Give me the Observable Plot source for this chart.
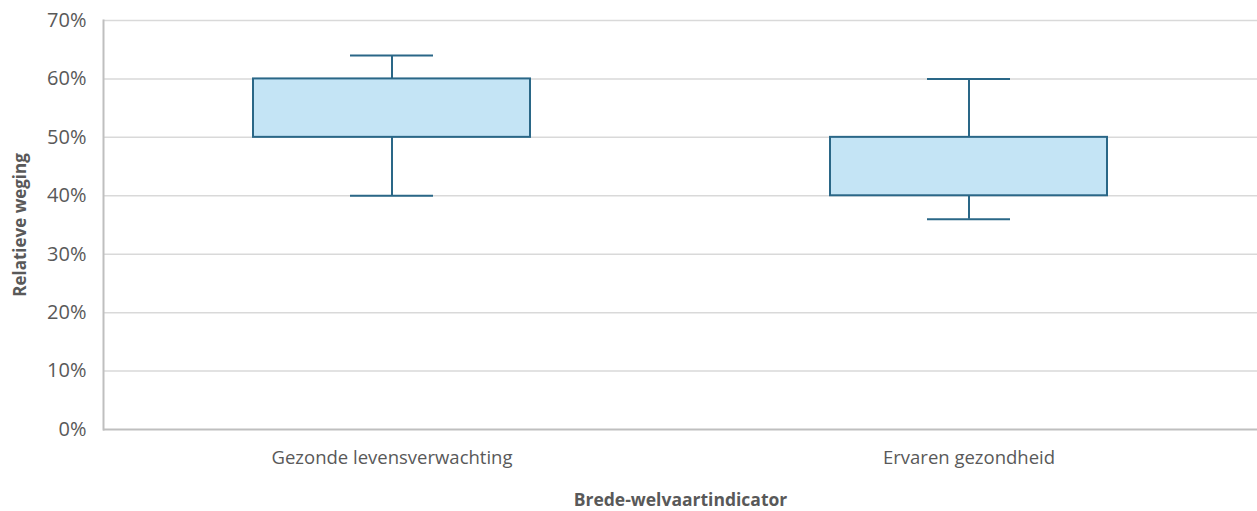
<!DOCTYPE html>
<html>
<head>
<meta charset="utf-8">
<script src="https://cdn.jsdelivr.net/npm/d3@7"></script>
<script src="https://cdn.jsdelivr.net/npm/@observablehq/plot@0.6"></script>
<style>
  html, body { margin: 0; padding: 0; background: #fff; }
  #chart svg { font-family: "Open Sans", Roboto, sans-serif; }
  #chart svg [aria-label="y-axis tick label"] text,
  #chart svg [aria-label="x-axis tick label"] text { fill: #595959; }
</style>
</head>
<body>
<div id="chart"></div>
<script>
const categories = ["Gezonde levensverwachting", "Ervaren gezondheid"];
const whiskerLow = [0.40, 0.36];
const q1 = [0.50, 0.40];
const q3 = [0.60, 0.50];
const whiskerHigh = [0.64, 0.60];
const yTicks = [0, 0.1, 0.2, 0.3, 0.4, 0.5, 0.6, 0.7];

const data = categories.map((c, i) => ({
  cat: c, lo: whiskerLow[i], q1: q1[i], q3: q3[i], hi: whiskerHigh[i]
}));

const boxStroke = "#2a6787";
const boxFill = "#c4e4f5";

const chart = Plot.plot({
  width: 1257,
  height: 511,
  marginLeft: 103,
  marginRight: 0,
  marginTop: 20,
  marginBottom: 82,
  style: { fontSize: "18px", background: "#fff" },
  x: { domain: categories, paddingInner: 0.52, paddingOuter: 0.26, label: null },
  y: { domain: [0, 0.7], ticks: yTicks, tickFormat: d3.format(".0%"), label: null },
  marks: [
    Plot.gridY(yTicks.filter(d => d > 0), { stroke: "#d9d9d9", strokeOpacity: 1, strokeWidth: 1.5 }),
    Plot.frame({ anchor: "left", stroke: "#bfbfbf", strokeWidth: 2 }),
    Plot.ruleY([0], { stroke: "#bfbfbf", strokeWidth: 2 }),
    Plot.axisY({ ticks: yTicks, tickFormat: d3.format(".0%"), tickSize: 0, tickPadding: 17, fontSize: 20, label: null }),
    Plot.axisX({ tickSize: 0, tickPadding: 21, fontSize: 18.5, label: null }),
    Plot.ruleX(data, { x: "cat", y1: "lo", y2: "q1", stroke: boxStroke, strokeWidth: 2 }),
    Plot.ruleX(data, { x: "cat", y1: "q3", y2: "hi", stroke: boxStroke, strokeWidth: 2 }),
    Plot.barY(data, { x: "cat", y1: "q1", y2: "q3", fill: boxFill, stroke: boxStroke, strokeWidth: 2 }),
    Plot.tickY(data, { x: "cat", y: "lo", stroke: boxStroke, strokeWidth: 2, insetLeft: 97, insetRight: 97 }),
    Plot.tickY(data, { x: "cat", y: "hi", stroke: boxStroke, strokeWidth: 2, insetLeft: 97, insetRight: 97 }),
    Plot.text(["Brede-welvaartindicator"], { frameAnchor: "bottom", dy: 76, fontSize: 17.5, fontWeight: "bold", fill: "#595959" }),
    Plot.text(["Relatieve weging"], { frameAnchor: "left", textAnchor: "middle", dx: -83, rotate: -90, fontSize: 17, fontWeight: "bold", fill: "#595959" })
  ]
});
document.getElementById("chart").appendChild(chart);
</script>
</body>
</html>
